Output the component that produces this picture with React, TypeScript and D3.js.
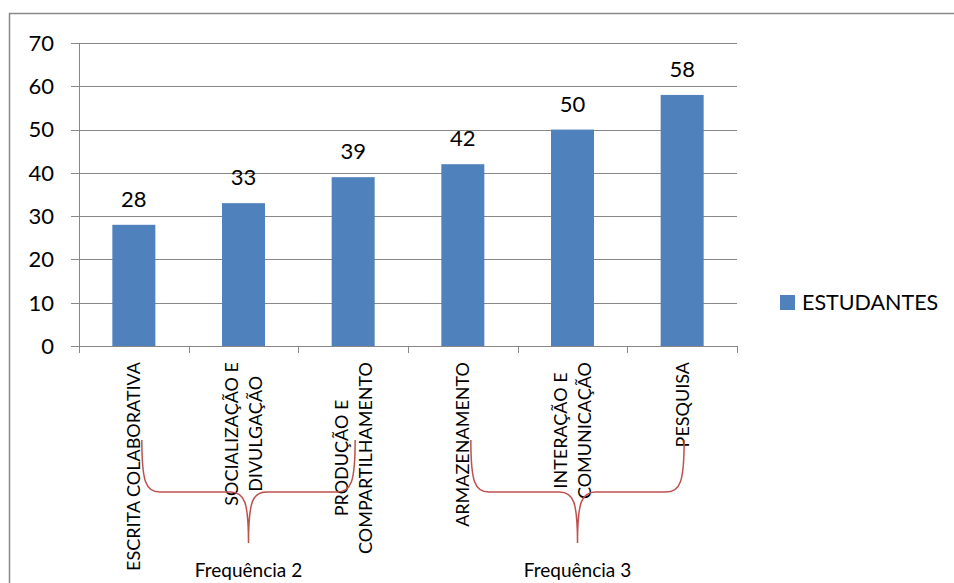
import React, { useEffect, useRef } from "react";
import * as d3 from "d3";

// Chart data
const categoryLines: string[][] = [
  ["ESCRITA COLABORATIVA"],
  ["SOCIALIZAÇÃO E", "DIVULGAÇÃO"],
  ["PRODUÇÃO E", "COMPARTILHAMENTO"],
  ["ARMAZENAMENTO"],
  ["INTERAÇÃO E", "COMUNICAÇÃO"],
  ["PESQUISA"],
];
const studentValues: number[] = [28, 33, 39, 42, 50, 58];
const yTickValues: number[] = [0, 10, 20, 30, 40, 50, 60, 70];
const seriesName = "ESTUDANTES";

// Frequency groups shown with braces under the category labels
const groupLabels: string[] = ["Frequência 2", "Frequência 3"];
const groupFirst: number[] = [0, 3];
const groupLast: number[] = [2, 5];

const W = 954;
const H = 583;
const FONT = "Lato, 'Open Sans', sans-serif";
const BAR = "#4F81BD";
const GRID = "#878787";
const BRACE = "#C0504D";

export default function App() {
  const ref = useRef<SVGSVGElement | null>(null);

  useEffect(() => {
    const svg = d3.select(ref.current);
    svg.selectAll("*").remove();

    const plot = { left: 79, right: 737, top: 43, bottom: 346 };

    const x = d3
      .scaleBand<number>()
      .domain(d3.range(categoryLines.length))
      .range([plot.left, plot.right])
      .padding(0);
    const y = d3.scaleLinear().domain([0, 70]).range([plot.bottom, plot.top]);
    const cx = (i: number) => (x(i) as number) + x.bandwidth() / 2;
    const barW = x.bandwidth() * 0.392;

    // chart frame
    svg
      .append("rect")
      .attr("x", 9.5)
      .attr("y", 13.5)
      .attr("width", 960)
      .attr("height", 600)
      .attr("fill", "white")
      .attr("stroke", "#888")
      .attr("stroke-width", 1.5);

    // gridlines with left tick marks
    svg
      .append("g")
      .selectAll("line")
      .data(yTickValues)
      .join("line")
      .attr("x1", plot.left - 8)
      .attr("x2", (d) => (d === 0 ? plot.left : plot.right))
      .attr("y1", (d) => Math.round(y(d)) + 0.5)
      .attr("y2", (d) => Math.round(y(d)) + 0.5)
      .attr("stroke", GRID)
      .attr("stroke-width", 1);

    // y tick labels
    svg
      .append("g")
      .selectAll("text")
      .data(yTickValues)
      .join("text")
      .attr("x", 54)
      .attr("y", (d) => y(d))
      .attr("dy", "0.36em")
      .attr("text-anchor", "end")
      .attr("font-family", FONT)
      .attr("font-size", 22)
      .attr("fill", "#000")
      .text((d) => d);

    // bars
    svg
      .append("g")
      .selectAll("rect")
      .data(studentValues)
      .join("rect")
      .attr("x", (_, i) => cx(i) - barW / 2)
      .attr("y", (d) => y(d))
      .attr("width", barW)
      .attr("height", (d) => y(0) - y(d))
      .attr("fill", BAR);

    // value labels
    svg
      .append("g")
      .selectAll("text")
      .data(studentValues)
      .join("text")
      .attr("x", (_, i) => cx(i))
      .attr("y", (d) => y(d) - 18)
      .attr("text-anchor", "middle")
      .attr("font-family", FONT)
      .attr("font-size", 22)
      .attr("fill", "#000")
      .text((d) => d);

    // axes lines
    svg
      .append("line")
      .attr("x1", plot.left + 0.5)
      .attr("x2", plot.left + 0.5)
      .attr("y1", plot.top)
      .attr("y2", plot.bottom)
      .attr("stroke", GRID);
    svg
      .append("line")
      .attr("x1", plot.left)
      .attr("x2", plot.right)
      .attr("y1", plot.bottom + 0.5)
      .attr("y2", plot.bottom + 0.5)
      .attr("stroke", GRID);
    const edges = d3.range(categoryLines.length + 1).map((i) =>
      i < categoryLines.length ? (x(i) as number) : plot.right
    );
    svg
      .append("g")
      .selectAll("line")
      .data(edges)
      .join("line")
      .attr("x1", (d) => Math.round(d) + 0.5)
      .attr("x2", (d) => Math.round(d) + 0.5)
      .attr("y1", plot.bottom)
      .attr("y2", plot.bottom + 7)
      .attr("stroke", GRID);

    // rotated category labels, lines centred on each other, longest ends just below axis
    const lineGap = 24;
    const labelTop = 362;
    categoryLines.forEach((lines, i) => {
      const g = svg.append("g");
      const texts = lines.map((ln, k) =>
        g
          .append("text")
          .attr("text-anchor", "middle")
          .attr("font-family", FONT)
          .attr("font-size", 18)
          .attr("fill", "#000")
          .attr("dy", "0.36em")
          .attr(
            "transform",
            `translate(${(k - (lines.length - 1) / 2) * lineGap},0) rotate(-90)`
          )
          .text(ln)
      );
      const maxLen = d3.max(texts, (t) =>
        (t.node() as SVGTextElement).getComputedTextLength()
      ) as number;
      g.attr("transform", `translate(${cx(i)},${labelTop + maxLen / 2})`);
    });

    // braces grouping categories by frequency
    const braceTop = 440;
    const braceMid = 492;
    const braceTip = 543;
    groupLabels.forEach((label, gi) => {
      const xl = cx(groupFirst[gi]) + 8;
      const xr = cx(groupLast[gi]) + 2;
      const xm = (xl + xr) / 2;
      const p = d3.path();
      p.moveTo(xl, braceTop);
      p.bezierCurveTo(xl, braceTop + 42, xl + 4, braceMid, xl + 18, braceMid);
      p.lineTo(xm - 18, braceMid);
      p.bezierCurveTo(xm - 4, braceMid, xm, braceMid + 10, xm, braceTip);
      p.bezierCurveTo(xm, braceMid + 10, xm + 4, braceMid, xm + 18, braceMid);
      p.lineTo(xr - 18, braceMid);
      p.bezierCurveTo(xr - 4, braceMid, xr, braceTop + 42, xr, braceTop);
      svg
        .append("path")
        .attr("d", p.toString())
        .attr("fill", "none")
        .attr("stroke", BRACE)
        .attr("stroke-width", 1.5);
      svg
        .append("text")
        .attr("x", xm)
        .attr("y", 577)
        .attr("text-anchor", "middle")
        .attr("font-family", FONT)
        .attr("font-size", 19)
        .attr("fill", "#000")
        .text(label);
    });

    // legend
    const lg = svg.append("g").attr("transform", "translate(780,295)");
    lg.append("rect").attr("width", 15).attr("height", 15).attr("fill", BAR);
    lg.append("text")
      .attr("x", 22)
      .attr("y", 7.5)
      .attr("dy", "0.36em")
      .attr("font-family", FONT)
      .attr("font-size", 21.5)
      .attr("fill", "#000")
      .text(seriesName);
  }, []);

  return (
    <svg
      ref={ref}
      width={W}
      height={H}
      style={{ position: "absolute", left: 0, top: 0, background: "white" }}
    />
  );
}
